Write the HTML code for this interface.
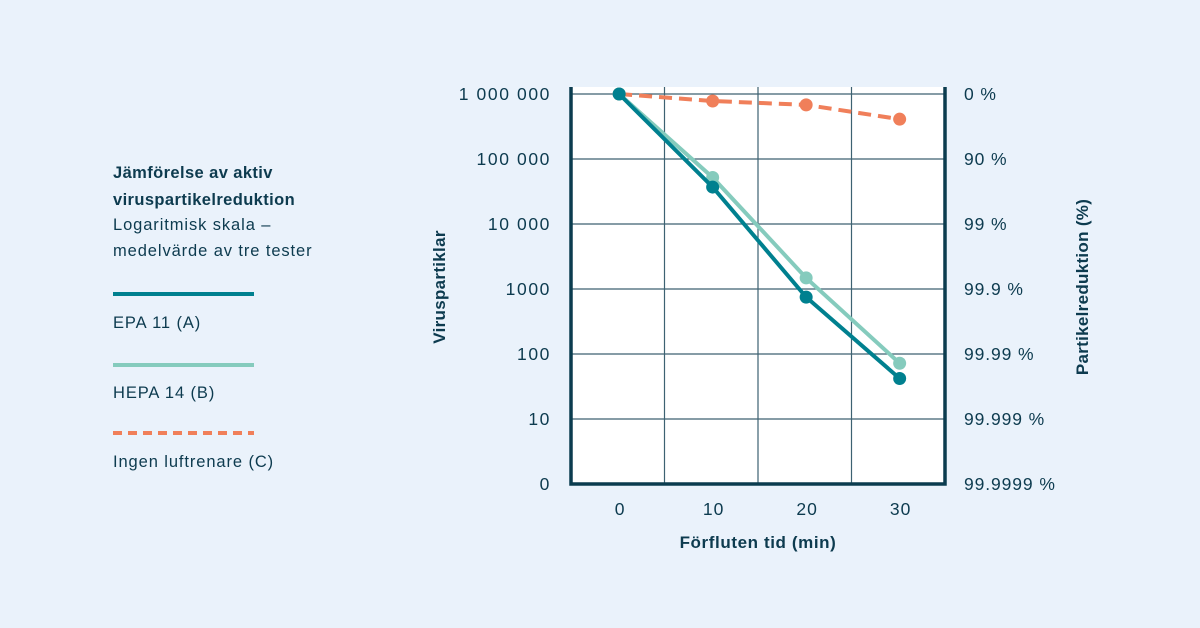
<!DOCTYPE html>
<html><head><meta charset="utf-8"><style>
body{margin:0;width:1200px;height:628px;background:#eaf2fb;font-family:"Liberation Sans",sans-serif;color:#0d3b4f;overflow:hidden}
</style></head><body>
<svg width="1200" height="628" style="position:absolute;left:0;top:0">
<g font-size="16.5" fill="#0d3b4f" letter-spacing="0.9">
<text x="113" y="178" font-weight="bold" letter-spacing="0.4">Jämförelse av aktiv</text>
<text x="113" y="205" font-weight="bold" letter-spacing="0.4">viruspartikelreduktion</text>
<text x="113" y="230">Logaritmisk skala –</text>
<text x="113" y="256">medelvärde av tre tester</text>
<line x1="113" y1="294" x2="254" y2="294" stroke="#00808f" stroke-width="4"/>
<text x="113" y="328">EPA 11 (A)</text>
<line x1="113" y1="365" x2="254" y2="365" stroke="#85cbbd" stroke-width="4"/>
<text x="113" y="398">HEPA 14 (B)</text>
<line x1="113" y1="433" x2="254" y2="433" stroke="#f07f5a" stroke-width="4" stroke-dasharray="9,6"/>
<text x="113" y="467">Ingen luftrenare (C)</text>
</g>
<g id="plot"></g>
</svg>
<script>
const categories=[0,10,20,30];
const epa=[1000000,37000,750,42];
const hepa=[1000000,52000,1480,72];
const none=[1000000,780000,680000,410000];
const leftTicks=["0","10","100","1000","10 000","100 000","1 000 000"];
const rightTicks=["99.9999 %","99.999 %","99.99 %","99.9 %","99 %","90 %","0 %"];
const xTicks=[0,10,20,30];
const NS="http://www.w3.org/2000/svg";
const g=document.getElementById('plot');
const L=571,R=945,T=87,B=484;
const xs=v=>L+(v+5.15)*(R-L)/40;
const ys=v=>484-Math.log10(Math.max(v,1))*65;
function mk(t,a,p){const e=document.createElementNS(NS,t);for(const k in a)e.setAttribute(k,a[k]);(p||g).appendChild(e);return e;}
let bg=mk('rect',{x:L,y:T,width:R-L,height:B-T,fill:'#fff'});


for(let i=0;i<leftTicks.length;i++){const y=ys(Math.pow(10,i));
 let gl=mk('line',{x1:L,x2:R,y1:y,y2:y,stroke:'#3d6272','stroke-width':1.2});
 
 
 let t=mk('text',{x:551,y:y+6,'text-anchor':'end','font-size':17.5,'letter-spacing':1.6,fill:'#0d3b4f'});t.textContent=leftTicks[i];
 
 
 let t2=mk('text',{x:964,y:y+6,'font-size':17.5,'letter-spacing':0.9,fill:'#0d3b4f'});t2.textContent=rightTicks[i];
 
 }
[5,15,25].forEach(v=>{let l=mk('line',{x1:L+(v+5)*(R-L)/40,x2:L+(v+5)*(R-L)/40,y1:T,y2:B,stroke:'#3d6272','stroke-width':1.2});
 
 });
xTicks.forEach(v=>{let t=mk('text',{x:xs(v)+1,y:515,'text-anchor':'middle','font-size':17.5,'letter-spacing':1,fill:'#0d3b4f'});t.textContent=v;
 
 });
let ax=mk('path',{d:`M${L},${T}V${B}H${R}V${T}`,fill:'none',stroke:'#0b3c4f','stroke-width':3.5});


function series(vals,color,dash,name){
 const pts=categories.map((c,i)=>xs(c)+','+ys(vals[i])).join(' ');
 let pl=mk('polyline',{points:pts,fill:'none',stroke:color,'stroke-width':4,'stroke-dasharray':dash||'none'});
 
 
 categories.forEach((c,i)=>{let d=mk('circle',{cx:xs(c),cy:ys(vals[i]),r:6.5,fill:color});
  
  });
}
series(none,'#f07f5a','13,7','no-purifier');
series(hepa,'#85cbbd',null,'hepa14');
series(epa,'#00808f',null,'epa11');
let xt=mk('text',{x:758,y:548,'text-anchor':'middle','font-size':17,'font-weight':'bold','letter-spacing':0.6,fill:'#0d3b4f'});xt.textContent='Förfluten tid (min)';


let yt=mk('text',{transform:'translate(445,287) rotate(-90)','text-anchor':'middle','font-size':17,'font-weight':'bold','letter-spacing':0.3,fill:'#0d3b4f'});yt.textContent='Viruspartiklar';


let y2=mk('text',{transform:'translate(1088,287) rotate(-90)','text-anchor':'middle','font-size':17,'font-weight':'bold','letter-spacing':0.3,fill:'#0d3b4f'});y2.textContent='Partikelreduktion (%)';


</script>
</body></html>
